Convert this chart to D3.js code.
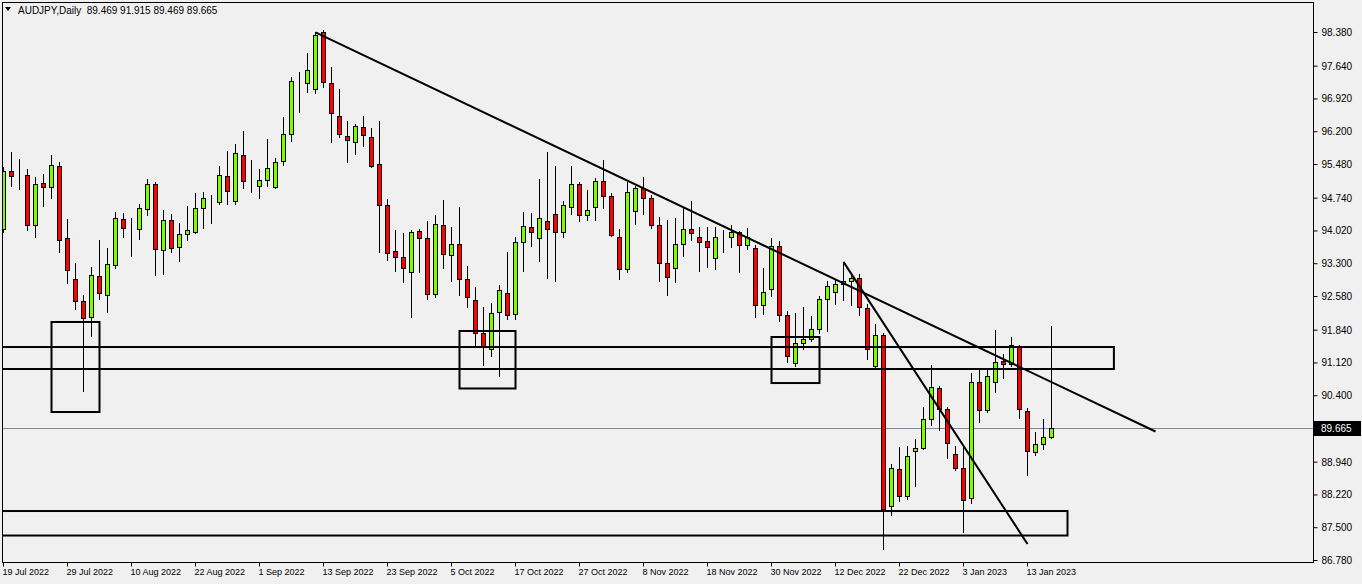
<!DOCTYPE html>
<html><head><meta charset="utf-8">
<script src="https://cdn.jsdelivr.net/npm/d3@7/dist/d3.min.js"></script>
<style>html,body{margin:0;padding:0;background:#f0f0f0;overflow:hidden}</style>
</head><body><svg id="c" width="1362" height="584"></svg>
<script>
const symbol = "AUDJPY,Daily";
const startDate = "2022-07-19";
const open = [94.045,95.319,95.205,95.238,94.124,95.062,94.968,95.435,93.847,92.946,92.463,92.112,93.012,92.595,93.254,94.264,94.045,94.045,94.484,95.033,93.583,94.242,93.649,93.935,93.970,94.506,94.726,94.638,95.209,94.667,95.670,95.025,94.981,95.113,94.968,95.530,96.123,97.265,97.252,97.112,98.364,97.252,96.527,96.088,95.956,96.285,96.066,95.473,94.572,93.562,93.430,93.100,94.001,93.847,92.617,94.133,93.474,93.715,92.946,92.485,91.760,91.409,92.221,92.639,92.178,93.759,94.089,93.847,94.221,94.374,93.979,94.528,95.033,94.352,94.528,95.099,94.770,93.869,93.166,94.440,94.946,94.726,94.133,93.298,93.188,93.715,94.045,93.869,93.781,93.408,93.860,93.869,93.979,93.693,93.627,92.375,92.727,93.671,92.156,91.101,91.540,91.628,91.848,92.507,92.661,92.837,92.902,92.968,92.309,91.035,91.716,87.960,88.773,88.179,89.168,89.234,89.871,90.552,90.091,89.102,88.794,88.135,90.684,90.069,90.684,91.145,91.079,91.453,90.047,89.146,89.322,89.469];
const high = [95.413,95.736,95.589,95.370,95.187,95.260,95.677,95.517,94.271,93.304,92.602,93.217,93.810,93.641,94.425,94.403,94.300,94.607,95.150,95.091,94.469,94.381,94.183,94.557,94.842,94.864,94.792,95.435,95.765,95.912,96.204,95.567,95.370,96.029,95.611,96.512,97.384,97.494,97.918,98.372,98.423,97.604,97.127,96.417,96.358,96.534,96.270,96.417,94.710,94.029,93.964,94.029,94.051,94.227,94.359,94.688,94.089,94.528,93.232,92.771,92.331,92.419,92.815,93.540,93.869,94.418,94.396,95.143,95.736,95.429,94.660,95.429,95.077,94.901,95.165,95.561,94.836,94.045,95.077,94.990,95.187,94.792,94.308,94.242,94.286,94.506,94.660,94.089,94.089,94.089,94.023,94.133,94.001,94.067,93.693,93.188,93.847,93.781,92.243,92.200,92.331,92.140,92.573,92.902,92.946,93.326,93.063,93.063,92.397,91.964,91.767,88.882,89.262,89.284,89.432,90.134,91.057,90.600,90.134,89.278,89.284,90.881,90.969,90.969,91.833,91.299,91.672,91.497,90.113,89.585,89.871,91.915];
const low = [93.992,95.003,94.930,94.029,93.882,94.563,94.739,93.553,92.859,92.301,90.499,91.707,92.520,92.235,93.206,93.882,93.465,93.838,94.366,93.048,93.069,93.553,93.355,93.816,93.960,94.080,94.190,94.607,94.607,94.601,94.959,94.871,94.739,95.003,94.960,95.464,95.991,96.628,97.068,97.046,97.177,95.969,96.079,95.530,95.706,95.881,95.420,93.553,93.377,93.135,92.894,92.125,93.113,92.520,92.564,93.201,92.916,92.608,92.345,91.466,91.070,91.268,90.829,92.081,92.081,93.135,93.685,93.355,92.982,92.916,93.869,94.374,94.221,94.242,94.242,94.506,93.890,92.946,93.100,94.155,94.374,94.067,92.902,92.591,92.894,93.465,93.816,93.135,93.223,93.179,93.553,93.649,93.113,93.605,92.125,92.178,92.573,92.037,91.136,91.048,91.422,91.584,91.760,91.804,92.397,92.485,92.375,92.156,91.202,90.983,87.015,87.762,88.070,88.113,88.399,89.220,89.739,89.629,89.014,88.751,87.389,88.026,89.805,90.025,90.464,90.772,91.035,89.893,88.641,89.080,89.212,89.469];
const close = [95.310,95.209,95.205,94.124,95.040,94.968,95.457,93.803,93.144,92.454,92.090,93.034,92.639,93.276,94.286,94.067,94.045,94.506,95.033,93.605,94.242,93.627,93.935,94.023,94.506,94.726,94.726,95.231,94.880,95.714,95.091,95.025,95.121,95.385,95.517,96.132,97.296,97.265,97.538,98.307,97.274,96.593,96.132,96.000,96.307,96.110,95.429,94.572,93.509,93.430,93.188,93.979,93.847,92.617,94.155,93.496,93.707,92.946,92.551,91.760,91.475,92.200,92.705,92.156,93.759,94.111,93.979,94.286,94.045,93.979,94.572,95.033,94.352,94.462,95.099,94.770,93.913,93.166,94.858,94.946,94.726,94.133,93.298,92.990,93.715,94.045,93.957,93.759,93.649,93.869,93.860,93.979,93.693,93.869,92.375,92.661,93.671,92.156,91.255,91.540,91.628,91.848,92.507,92.793,92.837,92.902,92.968,92.331,91.409,91.716,87.894,88.794,88.179,89.058,89.234,89.871,90.574,90.091,89.344,88.794,88.091,90.684,90.069,90.816,91.123,91.079,91.497,90.091,89.168,89.322,89.475,89.665];

const priceTicks = [98.38,97.64,96.92,96.20,95.48,94.74,94.02,93.30,92.58,91.84,91.12,90.40,88.94,88.22,87.50,86.78];
const dateTickLabels = ["19 Jul 2022","29 Jul 2022","10 Aug 2022","22 Aug 2022","1 Sep 2022","13 Sep 2022","23 Sep 2022","5 Oct 2022","17 Oct 2022","27 Oct 2022","8 Nov 2022","18 Nov 2022","30 Nov 2022","12 Dec 2022","22 Dec 2022","3 Jan 2023","13 Jan 2023"];
const lastPrice = 89.665;
const titleValues = [89.469, 91.915, 89.469, 89.665];

// drawn objects (bar index / price anchors)
const boxStart = [6, 57, 96, -5, -5];
const boxEnd   = [12, 64, 102, 138.8, 133];
const boxTop   = [92.009, 91.811, 91.679, 91.459, 87.856];
const boxBottom= [90.031, 90.548, 90.668, 90.976, 87.318];
const lineStart = [39, 105];
const lineStartPrice = [98.37, 93.33];
const lineEnd = [144, 128];
const lineEndPrice = [89.603, 87.131];

const W = 1362, H = 584;
const frameL = 2, frameT = 2, frameR = 1313, frameB = 562;
const n = open.length;

const svg = d3.select("#c");
const parse = d3.timeParse("%Y-%m-%d");
const fmt = d3.timeFormat("%-d %b %Y");
const dates = [];
let d = parse(startDate);
while (dates.length < n) {
  const wd = d.getDay();
  if (wd !== 0 && wd !== 6) dates.push(d);
  d = d3.timeDay.offset(d, 1);
}

const x = d3.scaleLinear().domain([0, n - 1]).range([3.5, 3.5 + 8 * (n - 1)]);
const y = d3.scaleLinear().domain([86.78, 98.38]).range([560, 32]);
const snap = v => Math.round(v - 0.5) + 0.5;

svg.append("defs").append("clipPath").attr("id", "clip")
  .append("rect").attr("x", frameL + 1).attr("y", frameT + 1)
  .attr("width", frameR - frameL - 1).attr("height", frameB - frameT - 1);

const plot = svg.append("g").attr("clip-path", "url(#clip)");

// current price line
plot.append("line")
  .attr("x1", frameL).attr("x2", frameR)
  .attr("y1", snap(y(lastPrice))).attr("y2", snap(y(lastPrice)))
  .attr("stroke", "#778899").attr("stroke-width", 1);

// candles
const idx = d3.range(n);
const cg = plot.append("g");
cg.selectAll("line.wick").data(idx).join("line").attr("class", "wick")
  .attr("x1", i => x(i)).attr("x2", i => x(i))
  .attr("y1", i => Math.round(y(high[i]))).attr("y2", i => Math.round(y(low[i])) + 1)
  .attr("stroke", "#000").attr("stroke-width", 1);

cg.selectAll("rect.body").data(idx).join("rect").attr("class", "body")
  .attr("x", i => x(i) - 2).attr("width", 4)
  .attr("y", i => snap(y(Math.max(open[i], close[i]))))
  .attr("height", i => Math.max(0, snap(y(Math.min(open[i], close[i]))) - snap(y(Math.max(open[i], close[i])))))
  .attr("fill", i => close[i] > open[i] ? "#7cfc00" : (close[i] < open[i] ? "#ff0000" : "#000"))
  .attr("stroke", "#000").attr("stroke-width", 1);

// drawn rectangles
const og = plot.append("g");
og.selectAll("rect.box").data(d3.range(boxStart.length)).join("rect").attr("class", "box")
  .attr("x", k => x(boxStart[k])).attr("y", k => y(boxTop[k]))
  .attr("width", k => x(boxEnd[k]) - x(boxStart[k]))
  .attr("height", k => y(boxBottom[k]) - y(boxTop[k]))
  .attr("fill", "none").attr("stroke", "#000").attr("stroke-width", 2);

og.selectAll("line.trend").data(d3.range(lineStart.length)).join("line").attr("class", "trend")
  .attr("x1", k => x(lineStart[k])).attr("y1", k => y(lineStartPrice[k]))
  .attr("x2", k => x(lineEnd[k])).attr("y2", k => y(lineEndPrice[k]))
  .attr("stroke", "#000").attr("stroke-width", 2);

// frame
svg.append("rect")
  .attr("x", frameL + 0.5).attr("y", frameT + 0.5)
  .attr("width", frameR - frameL).attr("height", frameB - frameT)
  .attr("fill", "none").attr("stroke", "#000").attr("stroke-width", 1);

// right axis
const ya = svg.append("g").attr("transform", `translate(${frameR + 0.5},0)`)
  .call(d3.axisRight(y).tickValues(priceTicks).tickFormat(d3.format(".3f")).tickSize(4).tickPadding(4).offset(0));
ya.select(".domain").remove();
ya.selectAll(".tick line").attr("stroke", "#000").attr("transform", "translate(0,0.5)");
ya.selectAll(".tick text").attr("fill", "#000").attr("font-family", "Liberation Sans, Arial, sans-serif")
  .attr("font-size", "10px").attr("dy", "0.35em").attr("y", 0.5);

// bottom axis
const tickIdx = dateTickLabels.map(s => dates.findIndex(dd => fmt(dd) === s));
const xa = svg.append("g").attr("transform", `translate(0,${frameB + 0.5})`)
  .call(d3.axisBottom(x).tickValues(tickIdx).tickFormat(i => fmt(dates[i])).tickSize(4).offset(0));
xa.select(".domain").remove();
xa.selectAll(".tick line").attr("stroke", "#000");
xa.selectAll(".tick text").attr("fill", "#000").attr("font-family", "Liberation Sans, Arial, sans-serif")
  .attr("font-size", "9px").attr("text-anchor", "start").attr("x", -1).attr("y", 6).attr("dy", "0.71em");

// current price label
const ly = snap(y(lastPrice));
svg.append("rect").attr("x", frameR + 1).attr("y", ly - 7.5).attr("width", 47).attr("height", 15).attr("fill", "#000");
svg.append("text").attr("x", frameR + 8).attr("y", ly).attr("dy", "0.35em")
  .attr("fill", "#fff").attr("font-family", "Liberation Sans, Arial, sans-serif").attr("font-size", "10px")
  .text(d3.format(".3f")(lastPrice));

// title
svg.append("path").attr("d", "M5,7 L11,7 L8,11 Z").attr("fill", "#000");
svg.append("text").attr("x", 18).attr("y", 14)
  .attr("font-family", "Liberation Sans, Arial, sans-serif").attr("font-size", "10px").attr("fill", "#000")
  .attr("xml:space", "preserve")
  .text(symbol + "  " + titleValues.map(d3.format(".3f")).join(" "));
</script></body></html>
